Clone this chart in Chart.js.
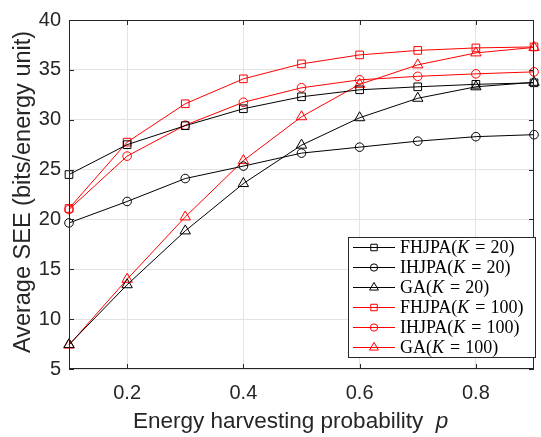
<!DOCTYPE html>
<html>
<head>
<meta charset="utf-8">
<script src="https://cdn.jsdelivr.net/npm/chart.js@4.4.0/dist/chart.umd.min.js"></script>
<style>
  html, body { margin: 0; padding: 0; background: #fff; }
  #chart { display: block; }
</style>
</head>
<body>
<canvas id="chart" width="541" height="437"></canvas>
<script>
// data
const pValues = [0.1, 0.2, 0.3, 0.4, 0.5, 0.6, 0.7, 0.8, 0.9];
const xTickValues = [0.2, 0.4, 0.6, 0.8];
const fhjpaK20 = [24.5, 27.5, 29.4, 31.1, 32.3, 33.0, 33.3, 33.55, 33.7];
const ihjpaK20 = [19.65, 21.8, 24.1, 25.35, 26.65, 27.25, 27.85, 28.3, 28.5];
const gaK20 = [7.45, 13.45, 18.85, 23.6, 27.45, 30.2, 32.15, 33.3, 33.75];
const fhjpaK100 = [21.1, 27.75, 31.6, 34.1, 35.6, 36.5, 36.95, 37.2, 37.3];
const ihjpaK100 = [21.0, 26.35, 29.45, 31.75, 33.2, 34.0, 34.35, 34.6, 34.8];
const gaK100 = [7.4, 14.0, 20.25, 25.9, 30.3, 33.55, 35.5, 36.7, 37.25];

const axisColor = '#262626';
const sansFont = '"Liberation Sans", Arial, Helvetica, sans-serif';
const serifFont = '"Liberation Serif", "Times New Roman", serif';

// marker radius per point style
const markerSize = { rect: 5.4, circle: 4.3, triangle: 6 };

function makeSet(name, k, values, color, marker) {
    return {
        label: name + '(K = ' + k + ')',
        algName: name,
        kValue: k,
        data: values.map((v, i) => ({ x: pValues[i], y: v })),
        borderColor: color,
        backgroundColor: color,
        borderWidth: 1,
        pointStyle: marker,
        pointRadius: markerSize[marker],
        pointBorderColor: color,
        pointBackgroundColor: 'rgba(0,0,0,0)',
        pointBorderWidth: 1,
        tension: 0,
        clip: false
    };
}

const datasets = [
    makeSet('FHJPA', 20, fhjpaK20, '#000000', 'rect'),
    makeSet('IHJPA', 20, ihjpaK20, '#000000', 'circle'),
    makeSet('GA', 20, gaK20, '#000000', 'triangle'),
    makeSet('FHJPA', 100, fhjpaK100, '#ff0000', 'rect'),
    makeSet('IHJPA', 100, ihjpaK100, '#ff0000', 'circle'),
    makeSet('GA', 100, gaK100, '#ff0000', 'triangle')
];

function drawMarker(ctx, style, x, y, r) {
    ctx.beginPath();
    if (style === 'rect') {
        const s = Math.SQRT1_2 * r;
        ctx.rect(x - s, y - s, 2 * s, 2 * s);
    } else if (style === 'circle') {
        ctx.arc(x, y, r, 0, Math.PI * 2);
    } else {
        ctx.moveTo(x, y - r);
        ctx.lineTo(x + 0.866 * r, y + 0.5 * r);
        ctx.lineTo(x - 0.866 * r, y + 0.5 * r);
        ctx.closePath();
    }
    ctx.stroke();
}

// box, inward ticks, axis titles and the legend
const decorPlugin = {
    id: 'decor',
    afterDatasetsDraw(chart) {
        const ctx = chart.ctx;
        const a = chart.chartArea;
        const xs = chart.scales.x, ys = chart.scales.y;
        ctx.save();
        ctx.strokeStyle = axisColor;
        ctx.lineWidth = 1;
        ctx.strokeRect(a.left + 0.5, a.top + 0.5, a.right - a.left - 1, a.bottom - a.top - 1);
        ctx.beginPath();
        xTickValues.forEach(v => {
            const px = Math.round(xs.getPixelForValue(v)) + 0.5;
            ctx.moveTo(px, a.bottom); ctx.lineTo(px, a.bottom - 5);
            ctx.moveTo(px, a.top); ctx.lineTo(px, a.top + 5);
        });
        ys.ticks.forEach(t => {
            const py = Math.round(ys.getPixelForValue(t.value)) + 0.5;
            ctx.moveTo(a.left, py); ctx.lineTo(a.left + 5, py);
            ctx.moveTo(a.right, py); ctx.lineTo(a.right - 5, py);
        });
        ctx.stroke();
        ctx.restore();
    },
    afterDraw(chart) {
        const ctx = chart.ctx;
        ctx.save();
        // axis titles
        ctx.fillStyle = axisColor;
        ctx.font = '22.5px ' + sansFont;
        ctx.textBaseline = 'alphabetic';
        ctx.textAlign = 'left';
        const xt = 'Energy harvesting probability  ';
        ctx.fillText(xt, 133, 428);
        const w = ctx.measureText(xt).width;
        ctx.font = 'italic 22.5px ' + sansFont;
        ctx.fillText('p', 133 + w, 428);

        ctx.save();
        ctx.translate(30, 192);
        ctx.rotate(-Math.PI / 2);
        ctx.font = '23.5px ' + sansFont;
        ctx.textAlign = 'center';
        ctx.fillText('Average SEE (bits/energy unit)', 0, 0);
        ctx.restore();

        // legend
        const lx = 348, ly = 237, lw = 187, lh = 120;
        ctx.fillStyle = '#ffffff';
        ctx.fillRect(lx, ly, lw, lh);
        ctx.strokeStyle = axisColor;
        ctx.lineWidth = 1;
        ctx.strokeRect(lx + 0.5, ly + 0.5, lw, lh);
        chart.data.datasets.forEach((ds, i) => {
            const y = ly + 10.5 + i * 20;
            ctx.strokeStyle = ds.borderColor;
            ctx.lineWidth = 1;
            ctx.beginPath();
            ctx.moveTo(353, y); ctx.lineTo(395, y);
            ctx.stroke();
            drawMarker(ctx, ds.pointStyle, 374, y, ds.pointRadius * 0.85);
            ctx.fillStyle = '#000000';
            ctx.textBaseline = 'middle';
            ctx.textAlign = 'left';
            let tx = 400;
            const parts = [
                [ds.algName + '(', '', 0],
                ['K', 'italic ', 6],
                ['=', '', 5],
                [ds.kValue + ')', '', 0]
            ];
            parts.forEach(p => {
                ctx.font = p[1] + '18px ' + serifFont;
                ctx.fillText(p[0], tx, y + 1);
                tx += ctx.measureText(p[0]).width + p[2];
            });
        });
        ctx.restore();
    }
};

new Chart(document.getElementById('chart'), {
    type: 'line',
    data: { datasets: datasets },
    options: {
        responsive: false,
        devicePixelRatio: 1,
        animation: false,
        layout: { padding: { top: 15, right: 3, left: 0, bottom: 0 } },
        plugins: {
            legend: { display: false },
            tooltip: { enabled: false }
        },
        scales: {
            x: {
                type: 'linear',
                min: 0.1,
                max: 0.9,
                afterBuildTicks: scale => {
                    scale.ticks = xTickValues.map(v => ({ value: v }));
                },
                afterFit: scale => { scale.height = 68; },
                grid: { color: '#e3e3e3', drawTicks: false },
                border: { display: false },
                ticks: {
                    padding: 12,
                    color: axisColor,
                    font: { family: sansFont, size: 20 },
                    callback: v => v.toFixed(1)
                }
            },
            y: {
                min: 5,
                max: 40,
                afterFit: scale => { scale.width = 69; },
                grid: { color: '#e3e3e3', drawTicks: false },
                border: { display: false },
                ticks: {
                    stepSize: 5,
                    padding: 8,
                    color: axisColor,
                    font: { family: sansFont, size: 20 }
                }
            }
        }
    },
    plugins: [decorPlugin]
});
</script>
</body>
</html>
